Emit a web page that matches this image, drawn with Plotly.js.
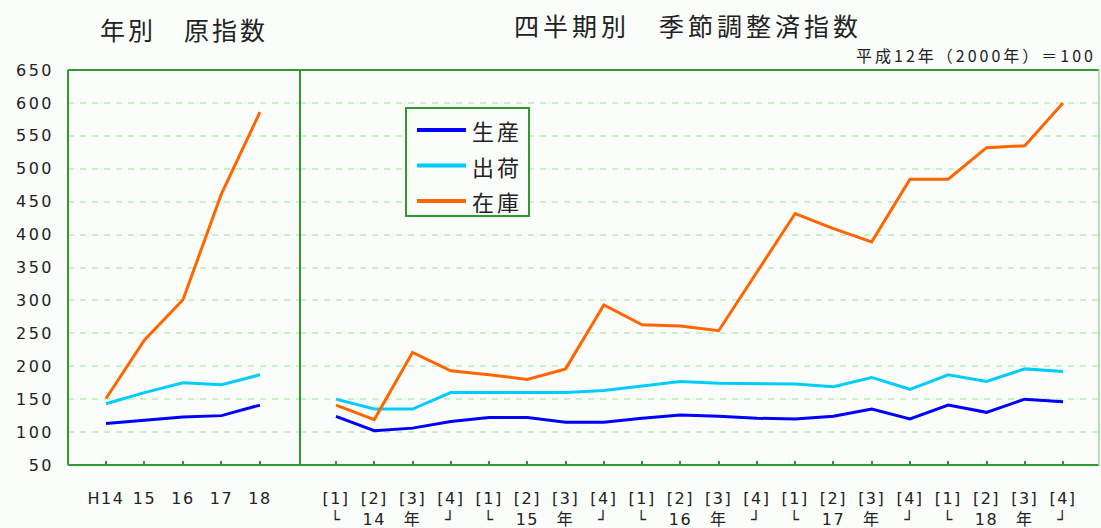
<!DOCTYPE html>
<html><head><meta charset="utf-8">
<script src="https://cdn.plot.ly/plotly-3.0.1.min.js"></script>
<style>
html,body{margin:0;padding:0;background:#fbfdfb;}
#chart{width:1101px;height:528px;}
#chart .xtick text, #chart .x2tick text, #chart .x3tick text {letter-spacing:1.5px;}
#chart .ytick text {letter-spacing:2.5px;}
#chart .gtitle {letter-spacing:4px;}
#chart .annotation-text {letter-spacing:3px;}
</style>
</head><body><div id="chart"></div>
<script>
// ---- data ----
const seriesNames = ['生産', '出荷', '在庫'];
const yearLabels = ['H14', '15', '16', '17', '18'];
const annualProduction = [113, 118, 123, 125, 141];
const annualShipments = [143, 160, 175, 172, 187];
const annualInventory = [151, 240, 301, 462, 586];
const quarterLabels = ['[1]', '[2]', '[3]', '[4]', '[1]', '[2]', '[3]', '[4]', '[1]', '[2]', '[3]', '[4]',
                       '[1]', '[2]', '[3]', '[4]', '[1]', '[2]', '[3]', '[4]'];
const quarterYearLabels = ['└', '14', '年', '┘', '└', '15', '年', '┘', '└', '16', '年', '┘',
                           '└', '17', '年', '┘', '└', '18', '年', '┘'];
const quarterlyProduction = [124, 102, 106, 116, 122, 122, 115, 115, 121, 126, 124, 121, 120, 124, 135, 120, 141, 130, 150, 146];
const quarterlyShipments  = [150, 135, 135, 160, 160, 160, 160, 163, 170, 177, 174, 174, 173, 169, 183, 165, 187, 177, 196, 192];
const quarterlyInventory  = [141, 119, 221, 193, 187, 180, 196, 293, 263, 261, 254, 343, 432, 409, 389, 484, 484, 532, 535, 600];
const leftTitle = '年別　原指数';
const rightTitle = '四半期別　季節調整済指数';
const baseNote = '平成12年（2000年）＝100';

// ---- styles ----
const colors = ['#0000ff', '#00ccff', '#ff6600'];
const green = '#2f9a2f';
const bg = '#fbfdfb';
const fontFamily = 'DejaVu Sans, Noto Sans CJK JP, sans-serif';
const cjkFamily = 'Noto Sans CJK JP, sans-serif';
const plotL = 68, plotT = 70, plotW = 1031, plotH = 395;
const split = (300 - plotL) / plotW;
const px2x = p => (p - plotL) / plotW;
const px2y = p => 1 - (p - plotT) / plotH;

const annualX = yearLabels.map((_, i) => i);
const quarterX = quarterLabels.map((_, i) => i);
const annualSeries = [annualProduction, annualShipments, annualInventory];
const quarterlySeries = [quarterlyProduction, quarterlyShipments, quarterlyInventory];

const traces = [];
seriesNames.forEach((name, k) => {
  traces.push({
    type: 'scatter', mode: 'lines', name: name, legendgroup: name,
    x: annualX, y: annualSeries[k], xaxis: 'x', yaxis: 'y',
    line: {color: colors[k], width: 3}, showlegend: false
  });
});
seriesNames.forEach((name, k) => {
  traces.push({
    type: 'scatter', mode: 'lines', name: name, legendgroup: name,
    x: quarterX, y: quarterlySeries[k], xaxis: 'x2', yaxis: 'y',
    line: {color: colors[k], width: 3}, showlegend: false
  });
});
// carrier for the second row of quarter labels
traces.push({type: 'scatter', mode: 'lines', x: quarterX, y: quarterX.map(() => null),
  xaxis: 'x3', yaxis: 'y', showlegend: false});

const tickFont = {family: fontFamily, size: 16, color: '#222'};

// hand-drawn legend box (as in the original)
const legendBox = {x0: 406, x1: 529, y0: 108, y1: 216};
const legendRows = [130, 165.5, 201];
const legendShapes = [{type: 'rect', xref: 'paper', yref: 'paper',
  x0: px2x(legendBox.x0), x1: px2x(legendBox.x1), y0: px2y(legendBox.y1), y1: px2y(legendBox.y0),
  line: {color: green, width: 2}, fillcolor: bg, layer: 'above'}];
const legendTexts = [];
seriesNames.forEach((name, k) => {
  legendShapes.push({type: 'line', xref: 'paper', yref: 'paper',
    x0: px2x(417), x1: px2x(466), y0: px2y(legendRows[k]), y1: px2y(legendRows[k]),
    line: {color: colors[k], width: 4}, layer: 'above'});
  legendTexts.push({text: name, xref: 'paper', yref: 'paper', x: px2x(497), y: px2y(legendRows[k]),
    xanchor: 'center', yanchor: 'middle', showarrow: false,
    font: {family: cjkFamily, size: 22, color: '#222'}});
});

const layout = {
  width: 1101, height: 528,
  paper_bgcolor: bg, plot_bgcolor: bg,
  margin: {l: plotL, r: 2, t: plotT, b: 63},
  font: {family: fontFamily, color: '#222'},
  showlegend: false,
  title: {text: rightTitle, font: {family: cjkFamily, size: 25, color: '#222'},
          xref: 'container', yref: 'container', x: 688 / 1101, y: 1 - 27 / 528,
          xanchor: 'center', yanchor: 'middle'},
  xaxis: {domain: [0, split], range: [-0.987, 5.04], tickmode: 'array',
          tickvals: annualX, ticktext: yearLabels, ticks: 'inside', ticklen: 4,
          tickcolor: green, tickwidth: 2, showline: false, showgrid: false, zeroline: false,
          ticklabelstandoff: 22, tickfont: tickFont, fixedrange: true},
  xaxis2: {domain: [split, 1], range: [-0.941, 19.94], tickmode: 'array',
           tickvals: quarterX, ticktext: quarterLabels, ticks: 'inside', ticklen: 4,
           tickcolor: green, tickwidth: 2, showline: false, showgrid: false, zeroline: false,
           anchor: 'y', ticklabelstandoff: 22, tickfont: tickFont, fixedrange: true},
  xaxis3: {overlaying: 'x2', anchor: 'y', side: 'bottom', range: [-0.941, 19.94], tickmode: 'array',
           tickvals: quarterX, ticktext: quarterYearLabels, ticks: '', showline: false,
           showgrid: false, zeroline: false, ticklabelstandoff: 43, tickfont: tickFont, fixedrange: true},
  yaxis: {range: [50, 650], dtick: 50, tick0: 50, tickmode: 'linear', showgrid: true,
          gridcolor: '#c6f2c6', gridwidth: 2, griddash: '6px,6px', zeroline: false,
          showline: false, ticks: '', ticklabelstandoff: 13, tickfont: tickFont, fixedrange: true},
  annotations: [
    {text: leftTitle, xref: 'paper', yref: 'paper', x: px2x(184), y: px2y(29),
     xanchor: 'center', yanchor: 'middle', showarrow: false,
     font: {family: cjkFamily, size: 25, color: '#222'}},
    {text: baseNote, xref: 'paper', yref: 'paper', x: px2x(976), y: px2y(55),
     xanchor: 'center', yanchor: 'middle', showarrow: false,
     font: {family: cjkFamily, size: 16, color: '#222'}}
  ].concat(legendTexts),
  shapes: [
    {type: 'line', xref: 'paper', yref: 'paper', x0: 0, x1: 0, y0: 0, y1: 1, line: {color: green, width: 2}, layer: 'above'},
    {type: 'line', xref: 'paper', yref: 'paper', x0: 0, x1: 1, y0: 1, y1: 1, line: {color: green, width: 2}, layer: 'above'},
    {type: 'line', xref: 'paper', yref: 'paper', x0: 0, x1: 1, y0: 0, y1: 0, line: {color: green, width: 2}, layer: 'above'},
    {type: 'line', xref: 'paper', yref: 'paper', x0: split, x1: split, y0: 0, y1: 1, line: {color: green, width: 2}, layer: 'above'},
    {type: 'line', xref: 'paper', yref: 'paper', x0: 1, x1: 1, y0: 0, y1: 1, line: {color: '#b5e0b5', width: 2}, layer: 'above'}
  ].concat(legendShapes),
  hovermode: false
};

Plotly.newPlot('chart', traces, layout, {displayModeBar: false, staticPlot: true});
</script>
</body></html>
